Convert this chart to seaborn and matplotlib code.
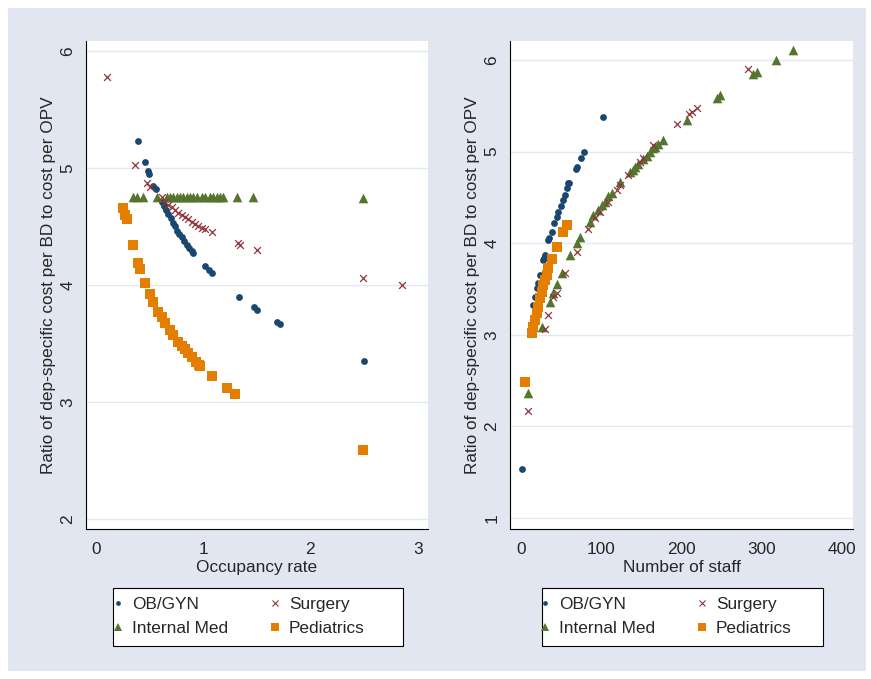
import numpy as np
import pandas as pd
import matplotlib
matplotlib.use("Agg")
import matplotlib.pyplot as plt
import seaborn as sns
from matplotlib.lines import Line2D
from matplotlib.patches import Rectangle

# ---------------- data ----------------
departments = ["OB/GYN", "Surgery", "Internal Med", "Pediatrics"]

# Left panel: occupancy rate vs ratio
ob_occ = [0.395, 0.457, 0.488, 0.497, 0.535, 0.557, 0.613, 0.634, 0.653, 0.675, 0.697,
          0.715, 0.737, 0.759, 0.777, 0.799, 0.821, 0.846, 0.871, 0.892, 0.908, 1.017,
          1.054, 1.079, 1.337, 1.474, 1.499, 1.686, 1.716, 2.497]
ob_occ_ratio = [5.23, 5.05, 4.97, 4.95, 4.85, 4.82, 4.71, 4.675, 4.641, 4.607, 4.57,
                4.533, 4.50, 4.464, 4.436, 4.408, 4.379, 4.345, 4.314, 4.29, 4.276, 4.162,
                4.128, 4.10, 3.895, 3.81, 3.79, 3.686, 3.667, 3.353]

su_occ = [0.105, 0.364, 0.479, 0.504, 0.613, 0.644, 0.675, 0.706, 0.737, 0.768, 0.799,
          0.830, 0.861, 0.892, 0.924, 0.955, 0.986, 1.017, 1.079, 1.327, 1.343, 1.499,
          2.494, 2.854]
su_occ_ratio = [5.78, 5.026, 4.87, 4.84, 4.75, 4.712, 4.684, 4.664, 4.641, 4.618, 4.598,
                4.579, 4.562, 4.541, 4.521, 4.504, 4.49, 4.476, 4.456, 4.356, 4.344, 4.299,
                4.062, 4.0]

im_occ = [0.348, 0.380, 0.441, 0.566, 0.660, 0.690, 0.721, 0.752, 0.784, 0.815, 0.846,
          0.877, 0.908, 0.939, 0.986, 1.017, 1.063, 1.094, 1.126, 1.157, 1.188, 1.313,
          1.467, 2.49]
im_occ_ratio = [4.75, 4.75, 4.75, 4.75, 4.75, 4.75, 4.75, 4.75, 4.75, 4.75, 4.75,
                4.75, 4.75, 4.75, 4.75, 4.75, 4.75, 4.75, 4.75, 4.75, 4.75, 4.75,
                4.75, 4.74]

pe_occ = [0.255, 0.271, 0.286, 0.342, 0.395, 0.410, 0.460, 0.504, 0.529, 0.581, 0.613,
          0.644, 0.690, 0.721, 0.768, 0.799, 0.830, 0.861, 0.892, 0.935, 0.960, 0.970,
          1.079, 1.219, 1.297, 2.49]
pe_occ_ratio = [4.656, 4.598, 4.562, 4.342, 4.191, 4.134, 4.015, 3.923, 3.857, 3.772, 3.729,
                3.678, 3.615, 3.573, 3.516, 3.479, 3.45, 3.416, 3.382, 3.34, 3.315, 3.308,
                3.222, 3.117, 3.068, 2.59]

# Right panel: number of staff vs ratio
ob_staff = [1.2, 15.7, 17.8, 19.9, 21.9, 24.0, 28.1, 29.0, 30.3, 34.4, 35.6, 38.6, 41.8,
            44.8, 46.8, 50.2, 53.1, 55.2, 57.3, 59.3, 60.5, 68.5, 69.7, 74.7, 78.8, 102.9]
ob_staff_ratio = [1.535, 3.325, 3.416, 3.508, 3.562, 3.653, 3.817, 3.835, 3.871, 4.035, 4.06,
                  4.126, 4.217, 4.29, 4.344, 4.406, 4.472, 4.526, 4.6, 4.654, 4.66, 4.807,
                  4.835, 4.927, 5.0, 5.381]

su_staff = [9.5, 30.3, 34.4, 40.6, 44.8, 55.2, 69.7, 84.2, 92.5, 98.8, 109.0, 119.5, 123.7,
            134.0, 148.6, 152.7, 165.1, 195.0, 210.1, 213.0, 219.2, 283.5]
su_staff_ratio = [2.17, 3.06, 3.216, 3.416, 3.453, 3.675, 3.907, 4.15, 4.272, 4.344, 4.453,
                  4.58, 4.635, 4.745, 4.89, 4.927, 5.072, 5.30, 5.41, 5.436, 5.473, 5.898]

im_staff = [9.5, 27.0, 36.5, 40.6, 44.8, 51.1, 61.4, 69.7, 73.8, 86.3, 90.4, 96.6, 100.9,
            105.0, 109.1, 113.3, 123.7, 136.1, 140.2, 142.3, 146.5, 152.7, 156.9, 161.0,
            165.1, 167.2, 171.4, 177.6, 207.5, 244.1, 248.2, 288.9, 293.9, 317.9, 339.5]
im_staff_ratio = [2.361, 3.088, 3.361, 3.453, 3.55, 3.671, 3.866, 4.0, 4.071, 4.235, 4.308,
                  4.362, 4.417, 4.45, 4.515, 4.55, 4.672, 4.775, 4.799, 4.835, 4.86, 4.92,
                  4.952, 5.0, 5.036, 5.054, 5.085, 5.127, 5.35, 5.589, 5.618, 5.847, 5.872,
                  6.0, 6.109]

pe_staff = [5.4, 13.7, 15.7, 17.8, 19.9, 21.9, 24.0, 26.2, 28.1, 30.3, 32.4, 34.4, 38.6,
            44.8, 53.1, 57.3]
pe_staff_ratio = [2.488, 3.023, 3.088, 3.162, 3.235, 3.307, 3.398, 3.47, 3.544, 3.598, 3.653,
                  3.726, 3.83, 3.962, 4.126, 4.2]

left_xticks = [0, 1, 2, 3]
left_yticks = [2, 3, 4, 5, 6]
right_xticks = [0, 100, 200, 300, 400]
right_yticks = [1, 2, 3, 4, 5, 6]

# ---------------- style ----------------
NAVY = "#1a476f"
MAROON = "#90353b"
GREEN = "#55752f"
ORANGE = "#e37e00"
BG = "#e1e6f0"
GRID = "#e4e8f1"
FS = 12.4

sns.set_style("white")
plt.rcParams['font.family'] = ['Liberation Sans', 'DejaVu Sans']

W, H = 871, 679
fig = plt.figure(figsize=(W / 100, H / 100), dpi=100)
fig.patch.set_facecolor("white")
fig.add_artist(Rectangle((8 / W, 1 - 671 / H), 858 / W, 663 / H, transform=fig.transFigure,
                         facecolor=BG, edgecolor="none", zorder=-2))

ax1 = fig.add_axes([86 / W, 1 - 529 / H, 342 / W, 488 / H])
ax2 = fig.add_axes([510 / W, 1 - 529 / H, 343 / W, 488 / H])

left_df = pd.DataFrame({
    "x": ob_occ + su_occ + im_occ + pe_occ,
    "y": ob_occ_ratio + su_occ_ratio + im_occ_ratio + pe_occ_ratio,
    "dept": ["OB/GYN"] * len(ob_occ) + ["Surgery"] * len(su_occ)
            + ["Internal Med"] * len(im_occ) + ["Pediatrics"] * len(pe_occ),
})
right_df = pd.DataFrame({
    "x": ob_staff + su_staff + im_staff + pe_staff,
    "y": ob_staff_ratio + su_staff_ratio + im_staff_ratio + pe_staff_ratio,
    "dept": ["OB/GYN"] * len(ob_staff) + ["Surgery"] * len(su_staff)
            + ["Internal Med"] * len(im_staff) + ["Pediatrics"] * len(pe_staff),
})

styles = {
    "OB/GYN": dict(marker="o", s=24, color=NAVY, linewidth=0),
    "Internal Med": dict(marker="^", s=48, color=GREEN, linewidth=0),
    "Surgery": dict(marker="x", s=24, color=MAROON, linewidth=0.9),
    "Pediatrics": dict(marker="s", s=44, color=ORANGE, linewidth=0),
}
draw_order = ["OB/GYN", "Internal Med", "Surgery", "Pediatrics"]


def draw(ax, df, xlim, ylim, xticks, yticks, xlabel):
    ax.set_facecolor("white")
    for d in draw_order:
        sub = df[df["dept"] == d]
        sns.scatterplot(data=sub, x="x", y="y", ax=ax, legend=False, zorder=3, **styles[d])
    ax.set_xlim(*xlim)
    ax.set_ylim(*ylim)
    ax.set_xticks(xticks)
    ax.set_xticklabels([str(t) for t in xticks], fontsize=FS)
    ax.set_yticks(yticks)
    ax.set_yticklabels([str(t) for t in yticks], fontsize=FS, rotation=90, va="center")
    for s in ["top", "right"]:
        ax.spines[s].set_visible(False)
    for s in ["left", "bottom"]:
        ax.spines[s].set_color("black")
        ax.spines[s].set_linewidth(0.8)
    ax.tick_params(axis="both", direction="out", length=4.3, width=0.8, color="black")
    ax.tick_params(axis="y", pad=3.5)
    ax.tick_params(axis="x", pad=5)
    ax.yaxis.grid(True, color=GRID, linewidth=1.0)
    ax.xaxis.grid(False)
    ax.set_axisbelow(True)
    ax.set_xlabel(xlabel, fontsize=FS, labelpad=2.5)
    ax.set_ylabel("Ratio of dep-specific cost per BD to cost per OPV", fontsize=FS, labelpad=3)


draw(ax1, left_df, (-0.093, 3.097), (1.915, 6.085), left_xticks, left_yticks, "Occupancy rate")
draw(ax2, right_df, (-13.3, 413.8), (0.88, 6.207), right_xticks, right_yticks, "Number of staff")

# legends
leg_handles = {
    "OB/GYN": Line2D([], [], ls="", marker="o", markersize=3.4, color=NAVY, markeredgewidth=0),
    "Surgery": Line2D([], [], ls="", marker="x", markersize=4.0, color=MAROON, markeredgewidth=0.8),
    "Internal Med": Line2D([], [], ls="", marker="^", markersize=6.0, color=GREEN, markeredgewidth=0),
    "Pediatrics": Line2D([], [], ls="", marker="s", markersize=5.6, color=ORANGE, markeredgewidth=0),
}
leg_order = ["OB/GYN", "Internal Med", "Surgery", "Pediatrics"]  # column-wise fill

for ax, box, marker_x in [(ax1, (112.7, 588.3, 402.7, 646), 118), (ax2, (541.7, 588.3, 822.7, 646), 545)]:
    x0, y0, x1, y1 = box
    fig.add_artist(Rectangle((x0 / W, 1 - y1 / H), (x1 - x0) / W, (y1 - y0) / H,
                             transform=fig.transFigure, facecolor="white",
                             edgecolor="black", linewidth=0.8, zorder=-1))
    hl = 0.8
    anchor_x = marker_x - hl * FS * 100 / 72 / 2
    ax.legend([leg_handles[k] for k in leg_order], leg_order, loc="center left",
              bbox_to_anchor=(anchor_x / W, 1 - 616.7 / H), bbox_transform=fig.transFigure,
              ncol=2, frameon=False, handlelength=hl, handletextpad=0.42, columnspacing=2.3,
              borderpad=0, borderaxespad=0, labelspacing=0.5, fontsize=FS, numpoints=1)

fig.savefig("out.png", dpi=100, facecolor="white")
